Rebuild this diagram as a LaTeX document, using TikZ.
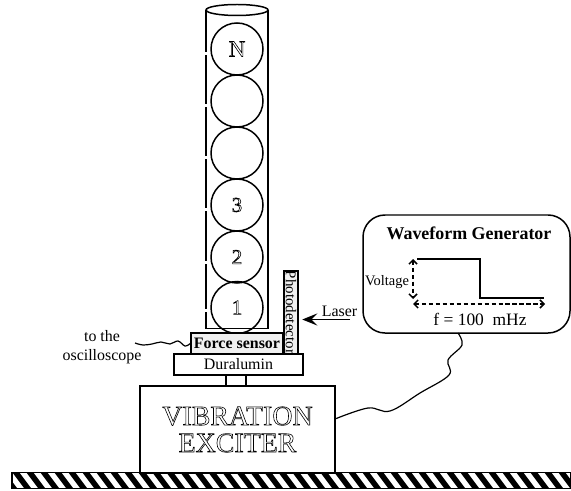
\documentclass[tikz,border=0pt]{standalone}
\usepackage{fontspec}
\setmainfont{Liberation Serif}
\usepackage{xcolor}
\usetikzlibrary{positioning,arrows.meta,calc}
\newcommand{\hollow}[1]{\special{pdf:code q 1 Tr 0.6 w}#1\special{pdf:code Q}}
\newcommand{\fsize}[1]{\fontsize{#1}{#1}\selectfont}
\tikzset{
  pen/.style={line width=1.5pt},
  ball/.style={circle, draw, pen, minimum size=52bp, inner sep=0pt},
  plate/.style={draw, pen, inner sep=0pt},
  wire/.style={line width=1.2pt, smooth, tension=0.6},
  dasharrow/.style={line width=1.5pt, dash pattern=on 4.5pt off 2.5pt, {Straight Barb[length=4pt,width=8pt]}-{Straight Barb[length=4pt,width=8pt]}}
}
\begin{document}
\begin{tikzpicture}[x=1bp,y=-1bp]
\useasboundingbox (0,0) rectangle (571,491);
% tube
\draw[pen] (206,10) -- (206,328.5) -- (268,328.5) -- (268,10);
\draw[pen] (237,10) ellipse (31bp and 5.5bp);
\foreach \y in {54,106,158,210,262,310}
  \draw[white, line width=2pt] (206,\y-1.5) -- (206,\y+1.5);
% balls
\node[ball] (ballN) at (237,49) {\fsize{23}\hollow{N}};
\node[ball] (ball4) at (237,101) {};
\node[ball] (ball5) at (237,153) {};
\node[ball] (ball3) at (237,205) {\fsize{21}\hollow{3}};
\node[ball] (ball2) at (237,257) {\fsize{21}\hollow{2}};
\node[ball] (ball1) at (237,307.5) {\fsize{21}\hollow{1}};
% stack under the tube
\node[plate, fill=gray!12, minimum width=92bp, minimum height=21bp] (sensor) at (237,343.5) {\fsize{16}\textbf{Force sensor}};
\node[plate, fill=gray!12, minimum width=14bp, minimum height=83bp] (photo) at (291,312.5) {\rotatebox{-90}{\fsize{15}Photodetector}};
\node[plate, fill=white, minimum width=129bp, minimum height=21bp] (dural) at (238.5,364.5) {\fsize{16}Duralumin};
\node[plate, minimum width=20bp, minimum height=11bp] (neck) at (236,380.5) {};
\node[plate, minimum width=195bp, minimum height=87bp, align=center] (exciter) at (237.5,429.5) {\fsize{28}\hollow{VIBRATION}\\[7bp]\fsize{28}\hollow{EXCITER}};
% ground
\node[minimum width=559bp, minimum height=16bp, inner sep=0pt] (ground) at (291.5,480.5) {};
\begin{scope}
\clip (ground.south west) rectangle (ground.north east);
\foreach \x in {0,14,...,590}
  \draw[line width=5.6pt] (\x,470) -- (\x+15,490);
\end{scope}
\draw[pen] (ground.south west) rectangle (ground.north east);
% laser
\node[font=\fsize{16}] (laser) at (339.5,311) {Laser};
\coordinate (laserin) at (350,319.5);
\draw[line width=1.5pt, -{Stealth[length=15bp,width=12bp,inset=6bp]}, shorten >=3.5bp] (laserin) -- (photo.east |- laserin);
% generator
\node[draw, pen, rounded corners=22bp, minimum width=207bp, minimum height=118bp] (wavegen) at (466.5,274) {};
\node[font=\fsize{18}\bfseries] (wavetitle) at (469,233) {Waveform Generator};
\coordinate (wave0) at (417,259);
\draw[pen] (wave0) -- (480,259) -- (480,298) -- (544,298);
\coordinate (volttop) at (413,259);
\coordinate (voltbot) at (413,299);
\coordinate (fend) at (545,304);
\coordinate (fstart) at (413,304);
\draw[dasharrow] (volttop) -- (voltbot);
\draw[dasharrow] (fstart) -- (fend);
\node[font=\fsize{14.5}] (voltage) at (387,282) {Voltage};
\node[font=\fsize{17.5}] (freq) at (480,319) {f = 100~~mHz};
% wires
\coordinate (wgout) at (458,333);
\coordinate (exin) at (335,419);
\draw[wire] plot coordinates {(wgout) (462,345) (448,360) (449,375) (420,393) (390,411) (368,408) (exin)};
\coordinate (oscend) at (135,343);
\draw[wire] plot coordinates {(oscend) (143,345) (152,344) (161,342) (170,344) (178,341) (185,346) (sensor.west)};
\node[font=\fsize{16}, align=center] (oscill) at (102,347) {to the\\[3bp]oscilloscope};
\end{tikzpicture}
\end{document}
